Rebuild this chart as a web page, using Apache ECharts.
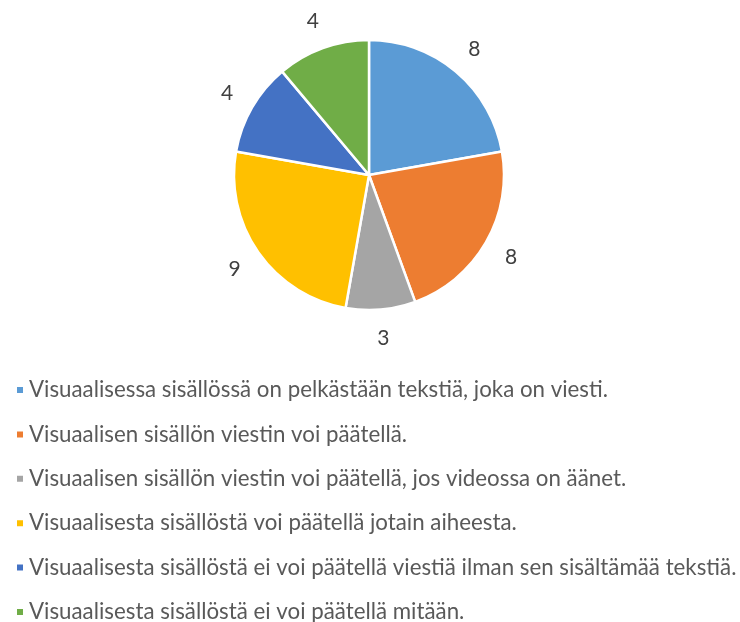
<!DOCTYPE html>
<html>
<head>
<meta charset="utf-8">
<script src="https://cdn.jsdelivr.net/npm/echarts@6/dist/echarts.min.js"></script>
<style>
  html, body { margin: 0; padding: 0; background: #fff; }
  #chart { width: 740px; height: 622px; }
</style>
</head>
<body>
<div id="chart"></div>
<script>
// vastausten luokat ja määrät
const categories = [
  'Visuaalisessa sisällössä on pelkästään tekstiä, joka on viesti.',
  'Visuaalisen sisällön viestin voi päätellä.',
  'Visuaalisen sisällön viestin voi päätellä, jos videossa on äänet.',
  'Visuaalisesta sisällöstä voi päätellä jotain aiheesta.',
  'Visuaalisesta sisällöstä ei voi päätellä viestiä ilman sen sisältämää tekstiä.',
  'Visuaalisesta sisällöstä ei voi päätellä mitään.'
];
const values = [8, 8, 3, 9, 4, 4];
const colors = ['#5B9BD5', '#ED7D31', '#A5A5A5', '#FFC000', '#4472C4', '#70AD47'];

const chart = echarts.init(document.getElementById('chart'));

const option = {
  animation: false,
  color: colors,
  legend: {
    orient: 'vertical',
    left: 10,
    top: 374,
    height: 248,
    icon: 'rect',
    itemWidth: 8,
    itemHeight: 8,
    itemGap: 22.4,
    data: categories,
    textStyle: {
      fontFamily: 'Lato',
      fontSize: 22.3,
      lineHeight: 22,
      color: '#595959'
    }
  },
  series: [{
    type: 'pie',
    center: [369, 175],
    radius: 135,
    startAngle: 90,
    clockwise: true,
    avoidLabelOverlap: false,
    itemStyle: { borderColor: '#fff', borderWidth: 2.5 },
    label: {
      show: true,
      position: 'outside',
      formatter: '{c}',
      fontFamily: 'Lato',
      fontSize: 21,
      color: '#404040',
      distanceToLabelLine: 0
    },
    labelLine: { show: false, length: 29, length2: 0 },
    labelLayout: { align: 'center', verticalAlign: 'middle' },
    emphasis: { disabled: true },
    data: categories.map((name, i) => ({ name: name, value: values[i] }))
  }]
};

chart.setOption(option);
</script>
</body>
</html>
